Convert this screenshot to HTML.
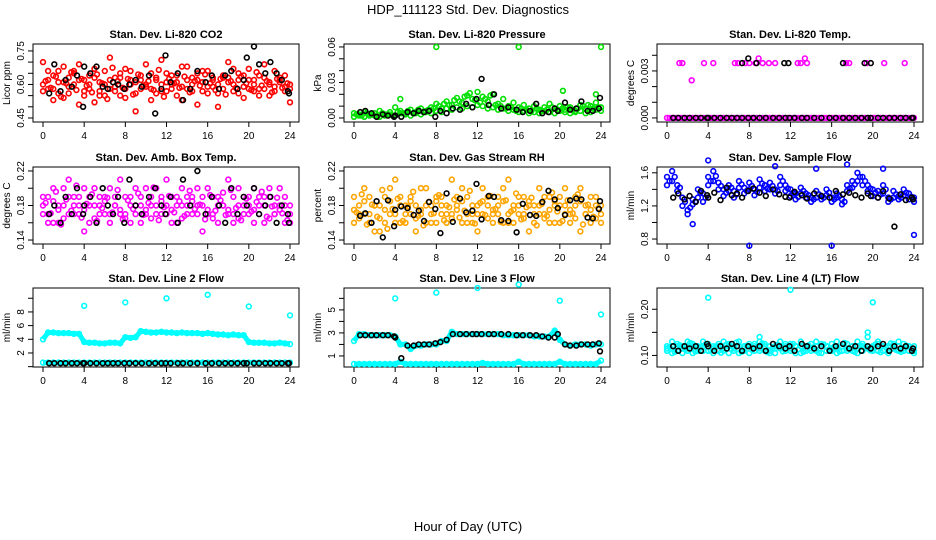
<!DOCTYPE html>
<html><head><meta charset="utf-8"><style>
body{margin:0;background:#fff;}
svg{display:block;font-family:"Liberation Sans",sans-serif;}
</style></head><body>
<svg id="chart" width="936" height="540" viewBox="0 0 936 540" xmlns="http://www.w3.org/2000/svg">
<rect width="936" height="540" fill="#fff"/>
<text x="468" y="14" text-anchor="middle" font-size="13">HDP_111123  Std. Dev. Diagnostics</text>
<text x="468" y="531" text-anchor="middle" font-size="13">Hour of Day (UTC)</text>
</svg>
<script>
const H=[0,0.5,1,1.5,2,2.5,3,3.5,4,4.5,5,5.5,6,6.5,7,7.5,8,8.5,9,9.5,10,10.5,11,11.5,12,12.5,13,13.5,14,14.5,15,15.5,16,16.5,17,17.5,18,18.5,19,19.5,20,20.5,21,21.5,22,22.5,23,23.5,24];
const H2=[0.25,0.75,1.25,1.75,2.25,2.75,3.25,3.75,4.25,4.75,5.25,5.75,6.25,6.75,7.25,7.75,8.25,8.75,9.25,9.75,10.25,10.75,11.25,11.75,12.25,12.75,13.25,13.75,14.25,14.75,15.25,15.75,16.25,16.75,17.25,17.75,18.25,18.75,19.25,19.75,20.25,20.75,21.25,21.75,22.25,22.75,23.25,23.75];
const BH=[0.6,1.1,1.7,2.2,2.8,3.3,3.9,4.0,4.6,5.2,5.8,6.3,6.8,7.3,7.9,8.4,9.0,9.6,10.3,10.9,11.5,11.9,12.4,13.1,13.6,14.3,15.0,15.8,16.4,17.1,17.7,18.3,18.9,19.5,19.8,20.5,21.0,21.6,22.1,22.7,23.2,23.8,23.9];
const xTicks=[0,4,8,12,16,20,24];
// P1 CO2
const red1=[0.70,0.62,0.58,0.66,0.54,0.63,0.60,0.69,0.57,0.64,0.52,0.61,0.66,0.58,0.63,0.55,0.67,0.60,0.48,0.62,0.59,0.65,0.56,0.71,0.61,0.58,0.64,0.53,0.68,0.60,0.62,0.57,0.66,0.59,0.50,0.63,0.61,0.67,0.56,0.64,0.58,0.62,0.55,0.69,0.60,0.57,0.63,0.59,0.52];
const red2=[0.57,0.66,0.53,0.61,0.68,0.56,0.65,0.51,0.62,0.58,0.67,0.55,0.60,0.72,0.57,0.63,0.54,0.66,0.61,0.58,0.69,0.53,0.62,0.57,0.65,0.60,0.55,0.68,0.58,0.63,0.51,0.66,0.59,0.62,0.56,0.64,0.70,0.57,0.62,0.54,0.67,0.60,0.58,0.63,0.55,0.66,0.61,0.57,0.60];
const red3=[0.60,0.58,0.64,0.56,0.61,0.59,0.66,0.62,0.55,0.60,0.63,0.57,0.55,0.62,0.59,0.65,0.58,0.62,0.56,0.64,0.60,0.58,0.63,0.60,0.57,0.64,0.61,0.59,0.62,0.57,0.65,0.61,0.56,0.63,0.60,0.58,0.63,0.60,0.65,0.59,0.62,0.57,0.64,0.58,0.61,0.59,0.62,0.64,0.58];
const red4=[0.615,0.585,0.635,0.545,0.605,0.655,0.575,0.625,0.595,0.565,0.645,0.605,0.535,0.675,0.615,0.585,0.625,0.555,0.645,0.595,0.615,0.575,0.665,0.545,0.625,0.605,0.585,0.635,0.565,0.615,0.595,0.645,0.605,0.575,0.625,0.555,0.615,0.585,0.635,0.605,0.575,0.655,0.595,0.615,0.565,0.625,0.585,0.605];
const blk1=[0.56,0.69,0.57,0.62,0.59,0.64,0.50,0.68,0.65,0.68,0.59,0.58,0.61,0.60,0.58,0.60,0.62,0.59,0.64,0.47,0.58,0.73,0.61,0.65,0.53,0.58,0.66,0.61,0.64,0.58,0.64,0.66,0.58,0.62,0.72,0.77,0.69,0.65,0.70,0.65,0.62,0.57,0.56];
// P2 pressure
const grn1=[0.004,0.003,0.005,0.002,0.004,0.006,0.003,0.005,0.009,0.006,0.004,0.007,0.005,0.008,0.006,0.009,0.012,0.008,0.014,0.011,0.017,0.013,0.019,0.016,0.022,0.018,0.014,0.020,0.012,0.016,0.010,0.013,0.009,0.011,0.008,0.010,0.007,0.009,0.012,0.008,0.010,0.007,0.009,0.006,0.011,0.008,0.010,0.013,0.009];
const grn2=[0.001,0.002,0.001,0.003,0.002,0.001,0.002,0.003,0.002,0.004,0.003,0.002,0.004,0.003,0.005,0.004,0.006,0.005,0.008,0.007,0.009,0.008,0.010,0.009,0.011,0.010,0.008,0.009,0.007,0.008,0.006,0.007,0.005,0.006,0.004,0.005,0.004,0.006,0.005,0.004,0.006,0.005,0.004,0.005,0.006,0.004,0.005,0.007,0.006];
const grn3=[0.003,0.002,0.004,0.003,0.001,0.004,0.003,0.002,0.005,0.004,0.006,0.004,0.007,0.005,0.007,0.008,0.010,0.012,0.011,0.015,0.014,0.018,0.021,0.015,0.013,0.016,0.019,0.011,0.010,0.008,0.009,0.006,0.008,0.007,0.006,0.008,0.006,0.007,0.009,0.007,0.008,0.009,0.007,0.008,0.010,0.011,0.008,0.009,0.008];
const grnOutH=[8,16,24,4.5,20.3,23.5];
const grnOutV=[0.060,0.060,0.060,0.016,0.023,0.020];
const blk2=[0.005,0.006,0.004,0.001,0.003,0.002,0.001,0.002,0.001,0.005,0.004,0.006,0.005,0.006,0.001,0.006,0.004,0.008,0.007,0.012,0.009,0.016,0.033,0.011,0.020,0.008,0.009,0.007,0.005,0.006,0.012,0.004,0.005,0.008,0.006,0.013,0.007,0.008,0.014,0.006,0.006,0.008,0.017];
// P3 temp
const magZero=[0,0,0,0,0,0,0,0,0,0,0,0,0,0,0,0,0,0,0,0,0,0,0,0,0,0,0,0,0,0,0,0,0,0,0,0,0,0,0,0,0,0,0,0,0,0,0,0,0];
const magZero2=[0,0,0,0,0,0,0,0,0,0,0,0,0,0,0,0,0,0,0,0,0,0,0,0,0,0,0,0,0,0,0,0,0,0,0,0,0,0,0,0,0,0,0,0,0,0,0,0];
const magTopH=[1.2,1.5,2.4,3.6,4.5,6.6,6.9,7.6,8.0,8.6,8.9,9.3,9.9,10.5,12.7,13.0,13.4,13.6,17.4,17.7,19.4,21.1,23.1];
const magTopV=[0.0035,0.0035,0.0024,0.0035,0.0035,0.0035,0.0035,0.0035,0.0035,0.0035,0.0038,0.0035,0.0035,0.0035,0.0035,0.0035,0.0038,0.0035,0.0035,0.0035,0.0035,0.0035,0.0035];
const blkTopH=[7.3,7.9,8.7,11.4,11.8,17.1,19.2,19.8];
const blkTopV=[0.0035,0.0038,0.0035,0.0035,0.0035,0.0035,0.0035,0.0035];
const blkZero=[0,0,0,0,0,0,0,0,0,0,0,0,0,0,0,0,0,0,0,0,0,0,0,0,0,0,0,0,0,0,0,0,0,0,0,0,0,0,0,0,0,0,0];
// P4 amb
const mag1=[0.19,0.17,0.20,0.16,0.18,0.21,0.17,0.19,0.15,0.18,0.20,0.17,0.19,0.16,0.18,0.21,0.17,0.19,0.18,0.16,0.20,0.18,0.17,0.19,0.21,0.16,0.18,0.20,0.17,0.19,0.18,0.15,0.20,0.17,0.19,0.18,0.21,0.16,0.18,0.19,0.17,0.20,0.18,0.16,0.19,0.17,0.20,0.18,0.16];
const mag2=[0.17,0.19,0.16,0.18,0.20,0.17,0.19,0.18,0.20,0.16,0.18,0.19,0.17,0.20,0.18,0.17,0.19,0.16,0.20,0.18,0.17,0.19,0.20,0.17,0.18,0.19,0.16,0.18,0.19,0.17,0.20,0.18,0.17,0.19,0.16,0.18,0.17,0.19,0.20,0.17,0.18,0.16,0.19,0.18,0.20,0.17,0.18,0.16,0.18];
const mag3=[0.18,0.16,0.185,0.175,0.165,0.19,0.18,0.17,0.175,0.19,0.165,0.18,0.185,0.17,0.19,0.175,0.165,0.18,0.17,0.19,0.175,0.165,0.18,0.185,0.17,0.175,0.19,0.165,0.18,0.185,0.17,0.19,0.175,0.165,0.18,0.195,0.175,0.17,0.165,0.18,0.19,0.175,0.17,0.19,0.165,0.18,0.175,0.19,0.17];
const mag4=[0.183,0.171,0.196,0.158,0.187,0.174,0.203,0.166,0.182,0.193,0.162,0.177,0.189,0.172,0.198,0.164,0.186,0.176,0.194,0.169,0.183,0.201,0.163,0.178,0.191,0.172,0.185,0.168,0.197,0.176,0.181,0.164,0.192,0.174,0.186,0.169,0.198,0.177,0.163,0.188,0.173,0.184,0.196,0.167,0.179,0.189,0.171,0.163];
const blk4=[0.17,0.18,0.16,0.19,0.17,0.20,0.17,0.18,0.19,0.16,0.20,0.18,0.17,0.19,0.16,0.21,0.18,0.17,0.19,0.20,0.18,0.17,0.19,0.16,0.21,0.18,0.22,0.17,0.19,0.18,0.16,0.20,0.17,0.19,0.18,0.20,0.17,0.18,0.19,0.16,0.18,0.17,0.16];
// P5 RH
const org1=[0.19,0.17,0.20,0.16,0.18,0.15,0.19,0.17,0.21,0.16,0.18,0.19,0.15,0.17,0.20,0.18,0.16,0.19,0.17,0.21,0.18,0.16,0.19,0.17,0.15,0.20,0.18,0.17,0.19,0.16,0.21,0.18,0.17,0.19,0.15,0.18,0.20,0.17,0.19,0.16,0.18,0.20,0.17,0.19,0.15,0.18,0.16,0.19,0.17];
const org2=[0.16,0.18,0.17,0.19,0.15,0.18,0.16,0.20,0.17,0.19,0.16,0.17,0.18,0.20,0.16,0.17,0.19,0.18,0.16,0.17,0.19,0.20,0.17,0.16,0.18,0.17,0.19,0.16,0.18,0.20,0.17,0.16,0.19,0.17,0.18,0.16,0.17,0.19,0.16,0.18,0.19,0.17,0.16,0.18,0.20,0.17,0.19,0.18,0.16];
const org3=[0.175,0.165,0.185,0.17,0.18,0.165,0.175,0.185,0.16,0.18,0.17,0.185,0.165,0.175,0.18,0.16,0.185,0.17,0.18,0.165,0.175,0.185,0.16,0.18,0.17,0.185,0.165,0.175,0.17,0.185,0.16,0.175,0.18,0.165,0.185,0.17,0.18,0.165,0.175,0.185,0.16,0.18,0.175,0.165,0.185,0.17,0.175,0.165,0.18];
const org4=[0.172,0.193,0.158,0.181,0.167,0.198,0.153,0.176,0.188,0.162,0.179,0.196,0.168,0.157,0.184,0.171,0.192,0.163,0.178,0.187,0.166,0.174,0.197,0.159,0.183,0.169,0.191,0.176,0.161,0.186,0.173,0.194,0.164,0.178,0.189,0.157,0.182,0.168,0.195,0.173,0.162,0.186,0.171,0.193,0.158,0.181,0.167,0.177];
const blk5=[0.168,0.171,0.160,0.185,0.143,0.186,0.156,0.175,0.179,0.177,0.169,0.174,0.162,0.184,0.176,0.148,0.194,0.161,0.188,0.172,0.174,0.205,0.164,0.191,0.190,0.163,0.162,0.149,0.182,0.169,0.168,0.184,0.197,0.187,0.177,0.169,0.186,0.188,0.187,0.166,0.165,0.176,0.185];
// P6 sample flow
const blu1=[1.55,1.62,1.45,1.20,1.15,1.28,1.40,1.35,1.55,1.62,1.48,1.40,1.45,1.38,1.50,1.42,1.48,1.40,1.52,1.45,1.48,1.40,1.55,1.45,1.40,1.35,1.42,1.35,1.30,1.38,1.32,1.40,1.30,1.35,1.28,1.45,1.50,1.60,1.55,1.45,1.40,1.38,1.45,1.30,1.38,1.32,1.40,1.35,1.30];
const blu2=[1.45,1.50,1.38,1.30,1.10,1.22,1.30,1.25,1.45,1.50,1.40,1.32,1.38,1.30,1.42,1.35,1.40,1.33,1.42,1.38,1.40,1.35,1.45,1.38,1.32,1.28,1.35,1.30,1.25,1.30,1.28,1.33,1.25,1.30,1.22,1.38,1.42,1.50,1.45,1.38,1.32,1.30,1.35,1.25,1.30,1.28,1.33,1.28,1.25];
const blu3=[1.50,1.55,1.42,1.25,1.18,1.25,1.36,1.30,1.50,1.56,1.44,1.36,1.42,1.34,1.46,1.38,1.44,1.37,1.47,1.41,1.44,1.38,1.50,1.41,1.36,1.31,1.38,1.33,1.28,1.34,1.30,1.36,1.28,1.32,1.25,1.41,1.46,1.55,1.50,1.41,1.36,1.34,1.40,1.28,1.34,1.30,1.36,1.31];
const bluOutH=[8,16,24,4,10.5,14.5,17.5,21,2.5];
const bluOutV=[0.72,0.72,0.85,1.75,1.68,1.65,1.70,1.65,0.98];
const blk6=[1.30,1.35,1.28,1.32,1.25,1.38,1.33,1.30,1.36,1.27,1.42,1.33,1.35,1.30,1.38,1.41,1.36,1.32,1.40,1.34,1.31,1.30,1.37,1.33,1.29,1.35,1.32,1.30,1.38,1.34,1.36,1.33,1.30,1.35,1.32,1.30,1.38,1.29,0.95,1.34,1.27,1.30,1.28];
// P7 line 2
const cy7=[4.0,5.0,5.0,4.9,4.9,4.9,4.8,4.8,3.6,3.5,3.5,3.4,3.4,3.5,3.5,3.4,4.3,4.2,4.3,5.2,5.1,5.0,5.0,5.1,5.0,5.0,4.9,5.0,4.9,4.9,4.9,4.8,4.9,4.8,4.7,4.7,4.6,4.7,4.6,4.6,3.6,3.5,3.5,3.5,3.4,3.4,3.5,3.4,3.3];
const cy7low=[0.6,0.6,0.6,0.6,0.6,0.6,0.6,0.6,0.6,0.6,0.6,0.6,0.6,0.6,0.6,0.6,0.6,0.6,0.6,0.6,0.6,0.6,0.6,0.6,0.6,0.6,0.6,0.6,0.6,0.6,0.6,0.6,0.6,0.6,0.6,0.6,0.6,0.6,0.6,0.6,0.6,0.6,0.6,0.6,0.6,0.6,0.6,0.6,0.6];
const cyOutH=[4,8,12,16,20,24];
const cy7OutV=[8.9,9.4,10.0,10.5,8.8,7.5];
const blk7=[0.5,0.5,0.5,0.5,0.5,0.5,0.5,0.5,0.5,0.5,0.5,0.5,0.5,0.5,0.5,0.5,0.5,0.5,0.5,0.5,0.5,0.5,0.5,0.5,0.5,0.5,0.5,0.5,0.5,0.5,0.5,0.5,0.5,0.5,0.5,0.5,0.5,0.5,0.5,0.5,0.5,0.5,0.5];
// P8 line 3
const cy8=[2.3,2.9,2.9,2.8,2.8,2.8,2.8,2.8,2.7,2.0,2.0,1.6,1.9,1.9,2.0,2.0,2.0,2.3,2.3,3.1,2.9,2.9,2.9,2.9,2.9,2.9,2.9,2.9,2.9,2.8,2.8,2.8,2.8,2.8,2.8,2.7,2.7,2.7,2.7,3.2,2.4,2.0,1.9,2.0,2.0,2.0,1.9,2.0,2.0];
const cy8low=[0.3,0.3,0.3,0.3,0.3,0.3,0.3,0.3,0.3,0.5,0.3,0.3,0.3,0.3,0.3,0.3,0.3,0.3,0.3,0.3,0.3,0.3,0.3,0.3,0.3,0.4,0.3,0.3,0.3,0.3,0.3,0.3,0.5,0.3,0.3,0.3,0.3,0.3,0.3,0.3,0.5,0.3,0.3,0.3,0.3,0.3,0.3,0.3,0.6];
const cy8OutV=[6.0,6.5,6.9,7.2,5.8,4.6];
const blk8=[2.8,2.8,2.8,2.8,2.8,2.8,2.7,2.6,0.8,1.9,1.9,2.0,2.0,2.0,2.1,2.2,2.4,2.9,2.9,2.9,2.9,2.9,2.9,2.9,2.9,2.9,2.9,2.8,2.8,2.8,2.8,2.7,2.6,2.6,2.9,2.0,1.9,1.9,2.0,2.0,2.0,2.1,1.4];
// P9 line 4
const cy9a=[0.12,0.13,0.11,0.12,0.13,0.12,0.11,0.13,0.12,0.12,0.11,0.13,0.12,0.11,0.13,0.12,0.12,0.11,0.13,0.12,0.11,0.12,0.13,0.12,0.11,0.12,0.13,0.12,0.11,0.13,0.12,0.12,0.11,0.13,0.12,0.11,0.12,0.13,0.11,0.12,0.12,0.13,0.11,0.12,0.12,0.13,0.11,0.12,0.12];
const cy9b=[0.11,0.12,0.125,0.105,0.115,0.125,0.12,0.11,0.125,0.105,0.12,0.115,0.125,0.12,0.105,0.115,0.125,0.12,0.11,0.125,0.12,0.105,0.115,0.11,0.125,0.12,0.105,0.115,0.125,0.11,0.105,0.12,0.125,0.115,0.11,0.125,0.12,0.105,0.12,0.115,0.11,0.125,0.12,0.11,0.115,0.12,0.125,0.11,0.105];
const cy9c=[0.115,0.105,0.12,0.115,0.11,0.105,0.115,0.12,0.11,0.115,0.125,0.11,0.105,0.115,0.12,0.11,0.105,0.125,0.115,0.11,0.105,0.115,0.12,0.125,0.115,0.105,0.12,0.11,0.115,0.12,0.125,0.11,0.115,0.105,0.12,0.115,0.11,0.12,0.125,0.14,0.115,0.11,0.12,0.105,0.125,0.11,0.115,0.12,0.11];
const cy9d=[0.118,0.108,0.122,0.113,0.127,0.109,0.117,0.124,0.111,0.119,0.106,0.123,0.114,0.128,0.108,0.121,0.112,0.118,0.126,0.107,0.116,0.123,0.109,0.119,0.125,0.113,0.108,0.122,0.117,0.106,0.124,0.113,0.119,0.109,0.127,0.114,0.108,0.121,0.116,0.111,0.124,0.107,0.118,0.126,0.112,0.108,0.121,0.115];
const cy9OutH=[4,12,20,9,19.5];
const cy9OutV=[0.225,0.242,0.215,0.14,0.15];
const blk9=[0.12,0.11,0.12,0.115,0.12,0.11,0.125,0.12,0.11,0.12,0.115,0.125,0.12,0.11,0.12,0.115,0.12,0.11,0.125,0.12,0.115,0.12,0.11,0.125,0.12,0.115,0.12,0.11,0.12,0.125,0.115,0.12,0.11,0.12,0.115,0.12,0.125,0.11,0.12,0.115,0.12,0.11,0.115];

const svg=document.getElementById('chart');
const NS='http://www.w3.org/2000/svg';
const colL=[33,344,657], rowT=[44,167,288], rowB=[122,244,367];
function mk(tag,attrs,parent){const e=document.createElementNS(NS,tag);for(const k in attrs)e.setAttribute(k,attrs[k]);(parent||svg).appendChild(e);return e;}

const panels=[
 {c:0,r:0,title:'Stan. Dev. Li-820 CO2',ylab:'Licor ppm',ylim:[0.432,0.781],ticks:[0.45,0.5,0.55,0.6,0.65,0.7,0.75],labels:{'0.45':'0.45','0.6':'0.60','0.75':'0.75'},
  s:[[H,red1,'#f00'],[H,red2,'#f00'],[H,red3,'#f00'],[H2,red4,'#f00'],[BH,blk1,'#000']]},
 {c:1,r:0,title:'Stan. Dev. Li-820 Pressure',ylab:'kPa',ylim:[-0.0034,0.0625],ticks:[0,0.01,0.02,0.03,0.04,0.05,0.06],labels:{'0':'0.00','0.03':'0.03','0.06':'0.06'},
  s:[[H,grn1,'#00e000'],[H,grn2,'#00e000'],[H2,grn3.slice(0,48),'#00e000'],[grnOutH,grnOutV,'#00e000'],[BH,blk2,'#000']]},
 {c:2,r:0,title:'Stan. Dev. Li-820 Temp.',ylab:'degrees C',ylim:[-0.00026,0.00472],ticks:[0,0.001,0.002,0.003,0.004],labels:{'0':'0.000','0.003':'0.003'},
  s:[[H,magZero,'#f0f'],[H2,magZero2,'#f0f'],[magTopH,magTopV,'#f0f'],[blkTopH,blkTopV,'#000'],[BH,blkZero,'#000']]},
 {c:0,r:1,title:'Stan. Dev. Amb. Box Temp.',ylab:'degrees C',ylim:[0.1354,0.2246],ticks:[0.14,0.16,0.18,0.2,0.22],labels:{'0.14':'0.14','0.18':'0.18','0.22':'0.22'},
  s:[[H,mag1,'#f0f'],[H,mag2,'#f0f'],[H,mag3,'#f0f'],[H2,mag4,'#f0f'],[BH,blk4,'#000']]},
 {c:1,r:1,title:'Stan. Dev. Gas Stream RH',ylab:'percent',ylim:[0.1354,0.2246],ticks:[0.14,0.16,0.18,0.2,0.22],labels:{'0.14':'0.14','0.18':'0.18','0.22':'0.22'},
  s:[[H,org1,'#ffa500'],[H,org2,'#ffa500'],[H,org3,'#ffa500'],[H2,org4,'#ffa500'],[BH,blk5,'#000']]},
 {c:2,r:1,title:'Stan. Dev. Sample Flow',ylab:'ml/min',ylim:[0.74,1.67],ticks:[0.8,1.0,1.2,1.4,1.6],labels:{'0.8':'0.8','1.2':'1.2','1.6':'1.6'},
  s:[[H,blu1,'#00f'],[H,blu2,'#00f'],[H2,blu3,'#00f'],[bluOutH,bluOutV,'#00f'],[BH,blk6,'#000']]},
 {c:0,r:2,title:'Stan. Dev. Line 2 Flow',ylab:'ml/min',ylim:[-0.05,11.5],ticks:[0,2,4,6,8,10],labels:{'2':'2','4':'4','6':'6','8':'8'},
  band:[[H,cy7,'#0ff'],[H,cy7low,'#0ff']],s:[[H,cy7,'#0ff'],[H,cy7low,'#0ff'],[cyOutH,cy7OutV,'#0ff'],[BH,blk7,'#000']]},
 {c:1,r:2,title:'Stan. Dev. Line 3 Flow',ylab:'ml/min',ylim:[0.04,6.9],ticks:[1,2,3,4,5,6],labels:{'1':'1','3':'3','5':'5'},
  band:[[H,cy8,'#0ff'],[H,cy8low,'#0ff']],s:[[H,cy8,'#0ff'],[H,cy8low,'#0ff'],[cyOutH,cy8OutV,'#0ff'],[BH,blk8,'#000']]},
 {c:2,r:2,title:'Stan. Dev. Line 4 (LT) Flow',ylab:'ml/min',ylim:[0.075,0.246],ticks:[0.1,0.15,0.2],labels:{'0.1':'0.10','0.2':'0.20'},
  s:[[H,cy9a,'#0ff'],[H,cy9b,'#0ff'],[H,cy9c,'#0ff'],[H2,cy9d,'#0ff'],[cy9OutH,cy9OutV,'#0ff'],[BH,blk9,'#000']]}
];

panels.forEach((p,pi)=>{
  const L=colL[p.c],T=rowT[p.r],B=rowB[p.r],R=L+266;
  const xs=h=>L+10+h*(247/24);
  const ys=v=>B-(v-p.ylim[0])/(p.ylim[1]-p.ylim[0])*(B-T);
  const g=mk('g',{});
  
  
  const t=mk('text',{x:(L+R)/2,y:T-6,'text-anchor':'middle','font-size':'11','font-weight':'bold'},g);
  t.textContent=p.title;
  
  
  const box=mk('rect',{x:L,y:T,width:R-L,height:B-T,fill:'none',stroke:'#000','stroke-width':'1'},g);
  
  
  const xa=mk('g',{},g);
  
  
  mk('line',{x1:xs(0),x2:xs(24),y1:B,y2:B,stroke:'#000'},xa);
  xTicks.forEach(h=>{
    mk('line',{x1:xs(h),x2:xs(h),y1:B,y2:B+5,stroke:'#000'},xa);
    const tl=mk('text',{x:xs(h),y:B+17,'text-anchor':'middle','font-size':'10'},xa);
    tl.textContent=String(h);
    
    
  });
  const ya=mk('g',{},g);
  
  
  mk('line',{x1:L,x2:L,y1:ys(p.ticks[0]),y2:ys(p.ticks[p.ticks.length-1]),stroke:'#000'},ya);
  p.ticks.forEach(v=>{
    const y=ys(v);
    mk('line',{x1:L-5,x2:L,y1:y,y2:y,stroke:'#000'},ya);
    const lab=p.labels[String(v)];
    if(lab){
      const tl=mk('text',{x:L-9,y:y,'text-anchor':'middle','font-size':'10',transform:'rotate(-90 '+(L-9)+' '+y+')'},ya);
      tl.textContent=lab;
      
      
    }
  });
  const yl=mk('text',{x:L-23,y:(T+B)/2,'text-anchor':'middle','font-size':'10',transform:'rotate(-90 '+(L-23)+' '+((T+B)/2)+')'},g);
  yl.textContent=p.ylab;
  
  
  (p.band||[]).forEach(([hx,vy,col])=>{
    const pts=hx.map((h,i)=>xs(h).toFixed(1)+','+ys(vy[i]).toFixed(1)).join(' ');
    const pl=mk('polyline',{points:pts,fill:'none',stroke:col,'stroke-width':'5','stroke-linejoin':'round'},g);
    
    
  });
  p.s.forEach(([hx,vy,col])=>{
    hx.forEach((h,i)=>{
      const c=mk('circle',{cx:xs(h).toFixed(1),cy:ys(vy[i]).toFixed(1),r:'2.4',fill:'none',stroke:col,'stroke-width':'1.6'},g);
      
      
    });
  });
});
</script>
</body></html>
